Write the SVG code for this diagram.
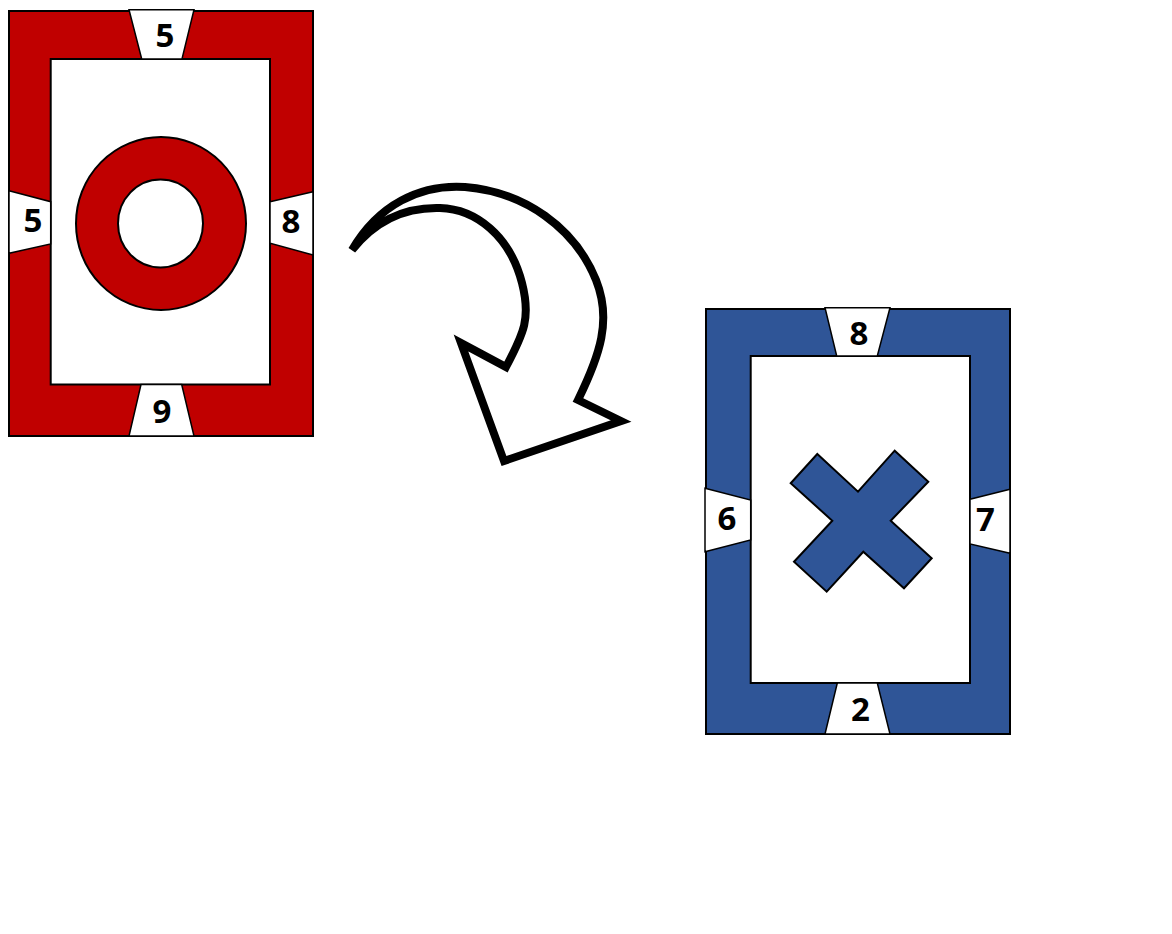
<svg xmlns="http://www.w3.org/2000/svg" width="1172" height="934" viewBox="0 0 1172 934">
<style>
.red{fill:#C00000;stroke:#000;stroke-width:2}
.blue{fill:#2F5597;stroke:#000;stroke-width:2}
.inner{fill:#fff;stroke:#000;stroke-width:2}
.tab{fill:#fff;stroke:#000;stroke-width:1.5}
.lbl{font-family:"Open Sans","Noto Sans","DejaVu Sans",sans-serif;font-weight:bold;font-size:33px;fill:#000;text-anchor:middle}
</style>
<rect width="1172" height="934" fill="#fff"/>
<g id="red-card">
<rect class="red" x="9" y="11" width="304" height="425"/>
<rect class="inner" x="50.7" y="59" width="219.3" height="325.5"/>
<ellipse class="red" cx="161" cy="223.5" rx="85" ry="86.5" stroke-width="1.5"/>
<ellipse class="inner" cx="160.5" cy="223.5" rx="42.5" ry="44" stroke-width="1.5"/>
<polygon class="tab" points="129,9.7 194,9.7 182,59 141.7,59"/>
<polygon class="tab" points="141,384.5 181.7,384.5 194,436 129,436"/>
<polygon class="tab" points="9,190.7 50.7,201.7 50.7,244 9,253.3"/>
<polygon class="tab" points="270,201.7 313,191.7 313,255 270,243.3"/>
<text class="lbl" x="165" y="47">5</text>
<text class="lbl" x="33" y="232">5</text>
<text class="lbl" x="291" y="233">8</text>
<text class="lbl" x="162" y="423">9</text>
</g>
<g id="connectors">
<path d="M352,250 C378,205 420,184 465,187 C525,192 575,228 596,280 C612,320 600,355 578,400 L621,421 L504,461 L461,343 L506,367 C524,333 531,318 522,283 C510,236 476,209 440,208 C405,207 375,221 352,250 Z" fill="#fff" stroke="#000" stroke-width="8" stroke-miterlimit="4"/>
</g>
<g id="blue-card">
<rect class="blue" x="706" y="309" width="304" height="425"/>
<rect class="inner" x="750.7" y="356" width="219.3" height="327"/>
<polygon class="blue" stroke-width="1.5" points="817.3,454 858,491.7 894.7,450.7 928.3,481.7 890.7,520.7 931.7,558.3 904,588.3 863.3,551.7 826.7,591.7 794,561.7 832.3,520.7 790.7,483.3"/>
<polygon class="tab" points="825,307.7 890,307.7 877.3,356 836.7,356"/>
<polygon class="tab" points="837.3,683 877.3,683 890,734 825,734"/>
<polygon class="tab" points="705,488.3 750.7,500 750.7,540 705,551.7"/>
<polygon class="tab" points="970,499.3 1010,489.3 1010,553.3 970,544"/>
<text class="lbl" x="859" y="345">8</text>
<text class="lbl" x="727" y="530">6</text>
<text class="lbl" x="985.5" y="531">7</text>
<text class="lbl" x="860.5" y="721">2</text>
</g>
</svg>
